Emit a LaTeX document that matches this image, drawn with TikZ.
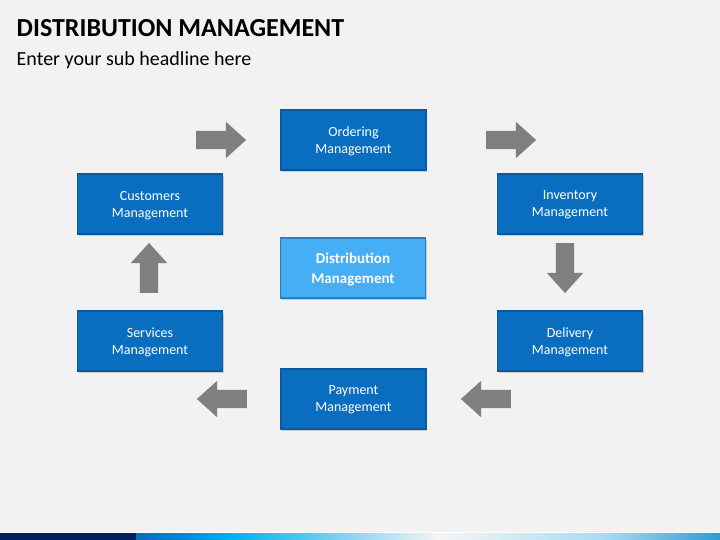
\documentclass[tikz,border=0pt]{standalone}
\usepackage{fontspec}
\setmainfont{Carlito}
\usetikzlibrary{shapes.arrows,shadows}
\definecolor{bg}{HTML}{F2F2F2}
\definecolor{boxblue}{HTML}{0A6EC0}
\definecolor{boxedge}{HTML}{0B58A0}
\definecolor{lightblue}{HTML}{45AFF5}
\definecolor{lightedge}{HTML}{2A7FC0}
\definecolor{arrowgray}{HTML}{7F7F7F}
\definecolor{navy}{HTML}{002060}
\definecolor{sA}{HTML}{0A6DB8}
\definecolor{sB}{HTML}{0088D2}
\definecolor{sC}{HTML}{00B0F0}
\definecolor{sD}{HTML}{5CC8F2}
\definecolor{sE}{HTML}{F5F5F5}
\definecolor{sF}{HTML}{A8DCF4}
\definecolor{sG}{HTML}{2E9AD8}
\pgfdeclarehorizontalshading{barshade}{100bp}{
  color(0bp)=(sA);
  color(25bp)=(sA);
  color(29bp)=(sB);
  color(33bp)=(sC);
  color(40bp)=(sD);
  color(51bp)=(sE);
  color(65bp)=(sF);
  color(75bp)=(sG);
  color(100bp)=(sG)}
\tikzset{
  procbox/.style={rectangle, fill=boxblue, draw=boxedge, line width=1.2pt,
    minimum width=145pt, minimum height=60pt, inner sep=0pt,
    text=white, align=center, font=\fontsize{14}{17}\selectfont,
    text depth=0pt,
    drop shadow={shadow xshift=1pt, shadow yshift=-2pt, opacity=0.35}},
  centerbox/.style={procbox, fill=lightblue, draw=lightedge,
    font=\fontsize{15}{20}\selectfont\bfseries},
  blockarrow/.style={single arrow, fill=arrowgray, draw=none,
    minimum height=50pt, inner sep=9pt,
    single arrow head extend=9pt, single arrow tip angle=84}
}
\begin{document}
\begin{tikzpicture}[x=1pt,y=-1pt]
\fill[bg] (0,0) rectangle (720,540);
\useasboundingbox (0,0) rectangle (720,540);
% title
\node[anchor=base west, inner sep=0pt, font=\fontsize{26}{30}\selectfont\bfseries] (title) at (16.5,37) {DISTRIBUTION MANAGEMENT};
\node[anchor=base west, inner sep=0pt, font=\fontsize{20}{24}\selectfont] (sub) at (16.5,66) {Enter your sub headline here};
% boxes
\node[procbox] (order) at (353.5,140) {Ordering\\Management};
\node[procbox] (cust) at (150,204) {Customers\\Management};
\node[procbox] (inv) at (570,204) {Inventory\\Management};
\node[centerbox] (dist) at (353,268) {Distribution\\Management};
\node[procbox] (serv) at (150,341) {Services\\Management};
\node[procbox] (deliv) at (570,341) {Delivery\\Management};
\node[procbox] (pay) at (353.5,399) {Payment\\Management};
% block arrows
\node[blockarrow] (a1) at (216,140) {};
\node[blockarrow] (a2) at (506,140) {};
\node[blockarrow, shape border rotate=270] (a3) at (565,263) {};
\node[blockarrow, shape border rotate=180] (a4) at (491,399) {};
\node[blockarrow, shape border rotate=180] (a5) at (227,399) {};
\node[blockarrow, shape border rotate=90] (a6) at (149,273) {};
% bottom bar
\draw[white, line width=1pt] (0,532.5) -- (720,532.5);
\fill[navy] (0,533) rectangle (136,540);
\shade[shading=barshade] (136,533) rectangle (720,540);
\end{tikzpicture}
\end{document}
